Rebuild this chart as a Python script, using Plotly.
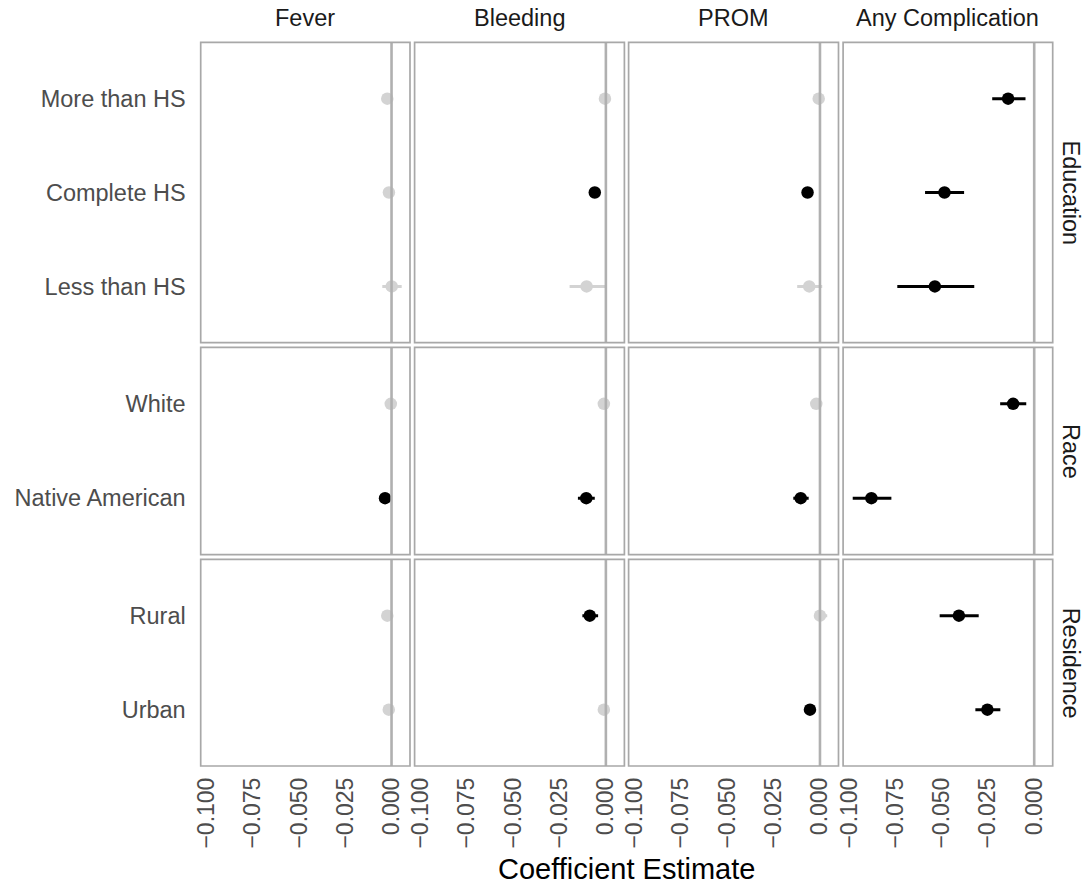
import plotly.graph_objects as go

# ---------------- data ----------------
outcomes = ["Fever", "Bleeding", "PROM", "Any Complication"]
groups = ["Education", "Race", "Residence"]
education_levels = ["More than HS", "Complete HS", "Less than HS"]
race_levels = ["White", "Native American"]
residence_levels = ["Rural", "Urban"]

# order of rows in every list below: education_levels + race_levels + residence_levels
fever_est = [-0.0023, -0.0014, 0.0001, -0.0004, -0.0035, -0.0023, -0.0015]
fever_lo = [-0.0045, -0.0035, -0.0050, -0.0022, -0.0042, -0.0045, -0.0036]
fever_hi = [0.0002, 0.0007, 0.0055, 0.0014, -0.0028, 0.0002, 0.0006]

bleeding_est = [-0.0005, -0.0060, -0.0104, -0.0011, -0.0106, -0.0087, -0.0011]
bleeding_lo = [-0.0025, -0.0075, -0.0196, -0.0030, -0.0151, -0.0127, -0.0030]
bleeding_hi = [0.0015, -0.0045, 0.0005, 0.0008, -0.0060, -0.0042, 0.0008]

prom_est = [-0.0007, -0.0067, -0.0058, -0.0020, -0.0104, 0.0000, -0.0054]
prom_lo = [-0.0026, -0.0078, -0.0123, -0.0038, -0.0144, -0.0031, -0.0062]
prom_hi = [0.0012, -0.0056, 0.0012, 0.0003, -0.0061, 0.0039, -0.0046]

any_est = [-0.0141, -0.0485, -0.0537, -0.0114, -0.0880, -0.0407, -0.0253]
any_lo = [-0.0227, -0.0590, -0.0740, -0.0184, -0.0981, -0.0511, -0.0318]
any_hi = [-0.0047, -0.0379, -0.0324, -0.0043, -0.0772, -0.0300, -0.0183]

x_ticks = [-0.100, -0.075, -0.050, -0.025, 0.000]
x_tick_labels = ["\u22120.100", "\u22120.075", "\u22120.050", "\u22120.025", "0.000"]

# ---------------- layout geometry ----------------
W, H = 1089, 890
col_px = [(200.7, 410.0), (414.6, 624.4), (628.6, 838.5), (843.1, 1052.7)]
row_px = [(42.3, 342.7), (347.3, 554.7), (559.3, 766.0)]
x_range = [-0.1033, 0.0100]

levels_by_group = [education_levels, race_levels, residence_levels]
series = [
    (fever_est, fever_lo, fever_hi),
    (bleeding_est, bleeding_lo, bleeding_hi),
    (prom_est, prom_lo, prom_hi),
    (any_est, any_lo, any_hi),
]

FONT = "Liberation Sans, Arial, Helvetica, sans-serif"
GREY_PT = "#d3d3d3"
BORDER = "#a8a8a8"
ZERO = "#b0b0b0"

fig = go.Figure()
layout = dict(
    width=W, height=H, autosize=False,
    margin=dict(l=0, r=0, t=0, b=0, autoexpand=False),
    paper_bgcolor="white", plot_bgcolor="white",
    showlegend=False,
    font=dict(family=FONT),
)
shapes = []
annotations = []

offsets = [0, len(education_levels), len(education_levels) + len(race_levels)]

for r, levels in enumerate(levels_by_group):
    for c, (est, lo, hi) in enumerate(series):
        idx = r * 4 + c + 1
        xa = "x" if idx == 1 else f"x{idx}"
        ya = "y" if idx == 1 else f"y{idx}"
        off = offsets[r]
        e = est[off:off + len(levels)]
        l = lo[off:off + len(levels)]
        h = hi[off:off + len(levels)]
        sig = [(hh < 0) or (ll > 0) for ll, hh in zip(l, h)]
        for flag, color in [(False, GREY_PT), (True, "black")]:
            sel = [i for i in range(len(levels)) if sig[i] == flag]
            if not sel:
                continue
            fig.add_trace(go.Scatter(
                x=[e[i] for i in sel],
                y=[levels[i] for i in sel],
                mode="markers",
                marker=dict(color=color, size=12.5, line=dict(width=0)),
                error_x=dict(type="data", symmetric=False,
                             array=[h[i] - e[i] for i in sel],
                             arrayminus=[e[i] - l[i] for i in sel],
                             color=color, thickness=3, width=0),
                xaxis=xa, yaxis=ya, hoverinfo="skip",
            ))
        x0, x1 = col_px[c]
        y0, y1 = row_px[r]
        xkey = "xaxis" if idx == 1 else f"xaxis{idx}"
        ykey = "yaxis" if idx == 1 else f"yaxis{idx}"
        layout[xkey] = dict(
            domain=[x0 / W, x1 / W], anchor=ya, range=x_range,
            showgrid=False, zeroline=False, automargin=False,
            showline=False,
            tickmode="array", tickvals=x_ticks, ticktext=x_tick_labels,
            showticklabels=(r == 2), tickangle=-90,
            ticks="", ticklabelstandoff=6,
            tickfont=dict(size=23, color="#4d4d4d", family=FONT),
            fixedrange=True,
        )
        layout[ykey] = dict(
            domain=[1 - y1 / H, 1 - y0 / H], anchor=xa,
            type="category", categoryorder="array",
            categoryarray=list(reversed(levels)),
            range=[-0.6, len(levels) - 0.4],
            showgrid=False, zeroline=False, automargin=False,
            showline=False,
            showticklabels=(c == 0), ticks="", ticklabelstandoff=14,
            tickfont=dict(size=23.5, color="#4d4d4d", family=FONT),
            fixedrange=True,
        )
        # zero reference line
        shapes.append(dict(
            type="line", xref=xa, yref=f"{ya} domain",
            x0=0, x1=0, y0=0, y1=1,
            line=dict(color=ZERO, width=2.6), layer="above",
        ))
        # panel border
        shapes.append(dict(
            type="rect", xref=f"{xa} domain", yref=f"{ya} domain",
            x0=0, x1=1, y0=0, y1=1,
            line=dict(color=BORDER, width=1.7), fillcolor="rgba(0,0,0,0)",
            layer="above",
        ))

# column strip titles
for c, name in enumerate(outcomes):
    x0, x1 = col_px[c]
    annotations.append(dict(
        text=name, x=(x0 + x1) / 2 / W, y=1 - 18 / H,
        xref="paper", yref="paper", xanchor="center", yanchor="middle",
        showarrow=False, font=dict(size=23.5, color="#1a1a1a", family=FONT),
    ))
# row strip titles
for r, name in enumerate(groups):
    y0, y1 = row_px[r]
    annotations.append(dict(
        text=name, x=1071 / W, y=1 - (y0 + y1) / 2 / H,
        xref="paper", yref="paper", xanchor="center", yanchor="middle",
        textangle=90, showarrow=False,
        font=dict(size=23.5, color="#1a1a1a", family=FONT),
    ))
# x axis title
annotations.append(dict(
    text="Coefficient Estimate",
    x=(col_px[0][0] + col_px[3][1]) / 2 / W, y=1 - 869 / H,
    xref="paper", yref="paper", xanchor="center", yanchor="middle",
    showarrow=False, font=dict(size=29, color="black", family=FONT),
))

layout["shapes"] = shapes
layout["annotations"] = annotations
fig.update_layout(**layout)
fig.write_html(
    "out.html",
    config={"displayModeBar": False},
    post_script="document.body.style.margin='0';document.body.style.overflow='hidden';",
)
